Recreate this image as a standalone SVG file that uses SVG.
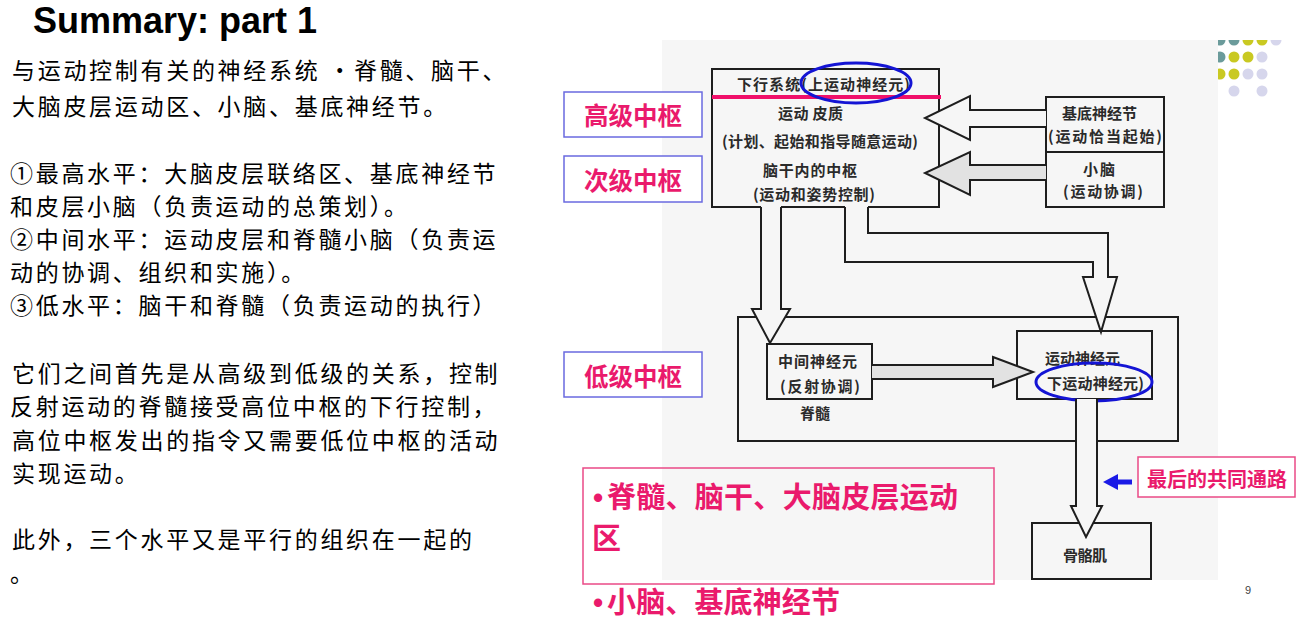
<svg xmlns="http://www.w3.org/2000/svg" width="1299" height="627" viewBox="0 0 1299 627">
<defs>
<style>
.body{font-family:"Noto Sans CJK SC","Noto Sans",sans-serif;font-size:23px;letter-spacing:2.7px;fill:#000}
.scan{font-family:"Noto Sans CJK SC",sans-serif;font-size:15px;font-weight:bold;fill:#2a2a2a}
.line{fill:none;stroke:#1e1e1e;stroke-width:2}
.arrow{fill:#f6f6f6;stroke:#1e1e1e;stroke-width:2;stroke-linejoin:miter}
.garrow{fill:#e2e2e2;stroke:#1e1e1e;stroke-width:2}
.lvl rect{fill:#fff;stroke:#6a6ae0;stroke-width:1.5}
.lvl text{font-family:"Noto Sans CJK SC",sans-serif;font-size:24.5px;font-weight:bold;fill:#ea1a6c;text-anchor:middle}
.pink{font-family:"Noto Sans CJK SC",sans-serif;font-size:29px;font-weight:bold;fill:#ea1a6c}
.dot{font-family:"Liberation Sans",Arial,sans-serif;font-size:29px;font-weight:bold;fill:#ea1a6c}
.ell{fill:none;stroke:#1414d4;stroke-width:3}
.t{fill:#6b9b9b}.y{fill:#c9c922}.l{fill:#d6d6ec}
</style>
<clipPath id="dotclip"><rect x="1218" y="40" width="81" height="70"/></clipPath>
</defs>
<rect width="1299" height="627" fill="#fff"/>
<rect id="scan-bg" x="662" y="40" width="556" height="540" fill="#f6f6f6"/>
<g id="dots" clip-path="url(#dotclip)">
<circle class="t" cx="1220" cy="40" r="5.5"/><circle class="t" cx="1234" cy="40" r="5.5"/><circle class="y" cx="1248" cy="40" r="5.5"/><circle class="y" cx="1262" cy="40" r="5.5"/><circle class="l" cx="1276" cy="40" r="5.5"/>
<circle class="t" cx="1220" cy="57" r="5.5"/><circle class="y" cx="1234" cy="57" r="5.5"/><circle class="y" cx="1248" cy="57" r="5.5"/><circle class="l" cx="1262" cy="57" r="5.5"/>
<circle class="y" cx="1220" cy="74" r="5.5"/><circle class="y" cx="1234" cy="74" r="5.5"/><circle class="l" cx="1248" cy="74" r="5.5"/><circle class="l" cx="1262" cy="74" r="5.5"/>
<circle class="l" cx="1234" cy="91" r="5.5"/><circle class="l" cx="1262" cy="91" r="5.5"/>
</g>
<text id="title" x="33" y="33" font-family="'Liberation Sans',Arial,sans-serif" font-size="36" font-weight="bold" fill="#000">Summary: part 1</text>
<g id="body-text">
<text class="body" x="12" y="79">与运动控制有关的神经系统 •脊髓、脑干、</text>
<text class="body" x="12" y="115">大脑皮层运动区、小脑、基底神经节。</text>
<text class="body" x="10" y="182">①最高水平：大脑皮层联络区、基底神经节</text>
<text class="body" x="10" y="215">和皮层小脑（负责运动的总策划）。</text>
<text class="body" x="10" y="248">②中间水平：运动皮层和脊髓小脑（负责运</text>
<text class="body" x="10" y="281">动的协调、组织和实施）。</text>
<text class="body" x="10" y="314">③低水平：脑干和脊髓（负责运动的执行）</text>
<text class="body" x="12" y="382">它们之间首先是从高级到低级的关系，控制</text>
<text class="body" x="10" y="415">反射运动的脊髓接受高位中枢的下行控制，</text>
<text class="body" x="12" y="449">高位中枢发出的指令又需要低位中枢的活动</text>
<text class="body" x="12" y="482">实现运动。</text>
<text class="body" x="12" y="548">此外，三个水平又是平行的组织在一起的</text>
<text class="body" x="10" y="582">。</text>
</g>
<g id="node-top">
<path class="line" d="M761,207 H712 V69 H939 V207 H868 M845,207 H781"/>
<line x1="712" y1="97" x2="941" y2="97" stroke="#f0106a" stroke-width="4"/>
<text class="scan" x="737" y="90" font-weight="normal" textLength="173">下行系统(上运动神经元)</text>
<text class="scan" x="778" y="119" textLength="65">运动 皮质</text>
<text class="scan" x="722" y="147" textLength="196">(计划、起始和指导随意运动)</text>
<text class="scan" x="763" y="176" textLength="94">脑干内的中枢</text>
<text class="scan" x="753" y="200" textLength="122">(运动和姿势控制)</text>
<ellipse class="ell" cx="856" cy="83" rx="55" ry="20"/>
</g>
<g id="node-basal">
<rect class="line" x="1046" y="97" width="118" height="110"/>
<line class="line" x1="1046" y1="152" x2="1164" y2="152"/>
<text class="scan" x="1062" y="119" textLength="75">基底神经节</text>
<text class="scan" x="1048" y="142" textLength="114">(运动恰当起始)</text>
<text class="scan" x="1083" y="175" textLength="32">小脑</text>
<text class="scan" x="1063" y="197" textLength="80">(运动协调)</text>
</g>
<g id="node-spinal">
<rect class="line" x="738" y="317" width="440" height="124"/>
<rect class="line" x="767" y="344" width="105" height="55" fill="#f6f6f6"/>
<text class="scan" x="778" y="367" textLength="79">中间神经元</text>
<text class="scan" x="780" y="392" textLength="80">(反射协调)</text>
<text class="scan" x="800" y="419" textLength="30">脊髓</text>
</g>
<g id="node-motor">
<rect class="line" x="1017" y="331" width="135" height="68" fill="#f6f6f6"/>
<text class="scan" x="1045" y="364" textLength="75">运动神经元</text>
<text class="scan" x="1047" y="389" textLength="97">下运动神经元)</text>
<ellipse class="ell" cx="1094" cy="382" rx="58" ry="19"/>
</g>
<g id="node-muscle">
<rect class="line" x="1032" y="523" width="119" height="56"/>
<text class="scan" x="1063" y="561" textLength="44">骨骼肌</text>
</g>
<g id="connectors">
<path class="arrow" d="M1046,110 H970 V96 L925,118 L970,140 V127 H1046"/>
<path class="garrow" d="M1046,165 H970 V152 L925,173 L970,195 V180 H1046"/>
<path class="arrow" d="M761,207 V309 H752 L770,343 L790,309 H781 V207"/>
<path class="arrow" d="M868,207 V233 H1108 V277 H1117 L1101,332 L1083,277 H1093 V262 H845 V207"/>
<path class="garrow" d="M872,365 H993 V357 L1033,372 L993,387 V379 H872"/>
<path class="arrow" d="M1076,399 V506 H1071 L1086,537 L1102,506 H1097 V399"/>
<line x1="1132" y1="482" x2="1114" y2="482" stroke="#1a1ae6" stroke-width="5"/>
<polygon points="1103,482 1118,474 1118,490" fill="#1a1ae6"/>
</g>
<g id="label-high" class="lvl"><rect x="564" y="92" width="138" height="45"/><text x="633" y="125">高级中枢</text></g>
<g id="label-mid" class="lvl"><rect x="564" y="156" width="138" height="46"/><text x="633" y="190">次级中枢</text></g>
<g id="label-low" class="lvl"><rect x="564" y="352" width="138" height="45"/><text x="633" y="386">低级中枢</text></g>
<g id="label-final">
<rect x="1138" y="457" width="157" height="40" fill="#fff" stroke="#ea4a86" stroke-width="1.5"/>
<text x="1147" y="487" font-family="'Noto Sans CJK SC',sans-serif" font-size="20" font-weight="bold" fill="#ea1a6c" textLength="140">最后的共同通路</text>
</g>
<g id="bullets">
<rect x="583" y="468" width="411" height="116" fill="none" stroke="#ea4a86" stroke-width="1.5"/>
<text class="dot" x="593" y="508">•</text>
<text class="pink" x="607" y="508" textLength="351">脊髓、脑干、大脑皮层运动</text>
<text class="pink" x="592" y="549">区</text>
<text class="dot" x="593" y="613">•</text>
<text class="pink" x="607" y="613" textLength="233">小脑、基底神经节</text>
</g>
<text id="page-num" x="1245" y="594" font-family="'Liberation Sans',Arial,sans-serif" font-size="11" fill="#444">9</text>
</svg>
